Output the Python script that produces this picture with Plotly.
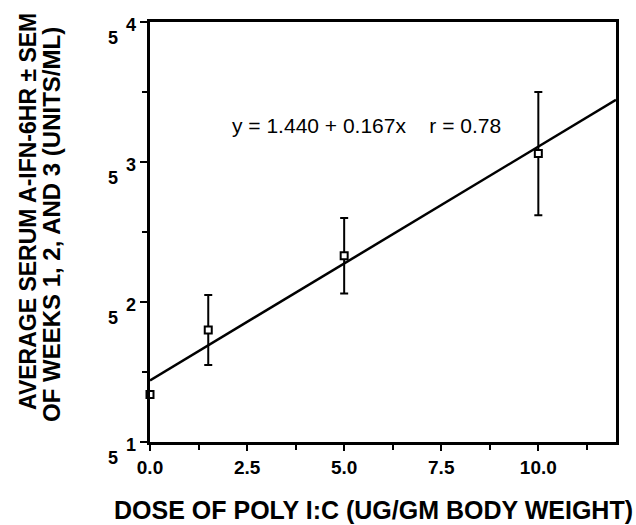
import plotly.graph_objects as go

# Data (y values are log base-5 exponents)
dose = [0.0, 1.5, 5.0, 10.0]
mean_log5 = [1.34, 1.80, 2.33, 3.06]
sem_up = [0.0, 0.25, 0.27, 0.44]
sem_down = [0.0, 0.25, 0.27, 0.44]

intercept = 1.440
slope = 0.167
line_x = [0.0, 12.0]
line_y = [intercept + slope * v for v in line_x]

y_exponents = [1, 2, 3, 4]
y_base = "5"

FONT = "Liberation Sans, Arial, Helvetica, sans-serif"
W, H = 636, 525
L, R, T, B = 150, 20, 22, 83
PW, PH = W - L - R, H - T - B


def px_x(p):
    return (p - L) / PW


def px_y(p):
    return (H - B - p) / PH


def label(x, y, text, size, bold=False, angle=0, xref="paper", yref="paper", yshift=0):
    fig.add_annotation(x=x, y=y, xref=xref, yref=yref, yshift=yshift,
                       xanchor="center", yanchor="middle", text=text,
                       showarrow=False, textangle=angle,
                       font=dict(family=FONT, size=size, color="black",
                                 weight="bold" if bold else "normal"))


fig = go.Figure()
fig.add_trace(go.Scatter(
    x=line_x, y=line_y, mode="lines",
    line=dict(color="black", width=2.5), showlegend=False, hoverinfo="skip"))
fig.add_trace(go.Scatter(
    x=dose, y=mean_log5, mode="markers", cliponaxis=False,
    marker=dict(symbol="square", size=7, color="white",
                line=dict(color="black", width=2)),
    error_y=dict(type="data", symmetric=False, array=sem_up, arrayminus=sem_down,
                 color="black", thickness=2, width=4),
    showlegend=False))

# regression equation
label(px_x(366), px_y(125), "y = 1.440 + 0.167x&nbsp;&nbsp;&nbsp;&nbsp;r = 0.78", 21)

# y tick labels: 5 with exponent
for e in y_exponents:
    label(px_x(113), e, y_base, 18, bold=True, yref="y", yshift=-16)
    label(px_x(131), e, str(e), 18, bold=True, yref="y", yshift=-3)

# axis titles
label(px_x(373), px_y(510), "DOSE OF POLY I:C (UG/GM BODY WEIGHT)", 25, bold=True)
label(px_x(28), px_y(212), "AVERAGE SERUM A-IFN-6HR ± SEM", 23, bold=True, angle=-90)
label(px_x(52), px_y(225), "OF WEEKS 1, 2, AND 3 (UNITS/ML)", 24, bold=True, angle=-90)

fig.update_layout(
    width=W, height=H,
    margin=dict(l=L, r=R, t=T, b=B),
    paper_bgcolor="white", plot_bgcolor="white",
    font=dict(family=FONT, color="black"),
    xaxis=dict(range=[0, 12], tick0=0, dtick=2.5, tickformat=".1f",
               automargin=False,
               showgrid=False, zeroline=False, showline=True, mirror=True,
               linecolor="black", linewidth=2.5, ticks="outside", ticklen=6,
               tickwidth=2, tickcolor="black",
               minor=dict(dtick=1.25, tick0=0, ticks="outside", ticklen=5,
                          tickwidth=2, tickcolor="black", showgrid=False),
               tickfont=dict(family=FONT, size=19, weight="bold")),
    yaxis=dict(range=[1, 4], tick0=1, dtick=1, showticklabels=False,
               automargin=False,
               showgrid=False, zeroline=False, showline=True, mirror=True,
               linecolor="black", linewidth=2.5, ticks="outside", ticklen=7,
               tickwidth=2, tickcolor="black",
               minor=dict(dtick=0.5, tick0=1, ticks="outside", ticklen=5,
                          tickwidth=2, tickcolor="black", showgrid=False)),
)

fig.write_html("out.html", config={"displayModeBar": False},
               post_script="document.body.style.margin='0';")
